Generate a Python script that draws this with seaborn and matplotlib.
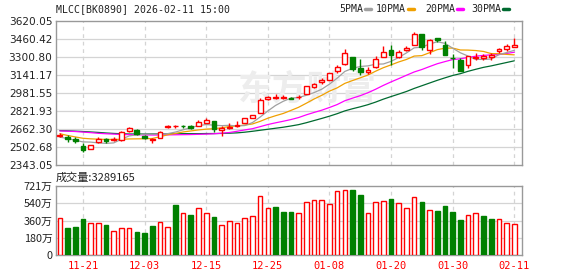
import numpy as np
import pandas as pd
import matplotlib
matplotlib.use("Agg")
import matplotlib.pyplot as plt
import seaborn as sns

# ---------------- data ----------------
title = "MLCC[BK0890] 2026-02-11 15:00"
dates = ["11-18", "11-19", "11-20", "11-21", "11-24", "11-25", "11-26", "11-27", "11-28",
         "12-01", "12-02", "12-03", "12-04", "12-05", "12-08", "12-09", "12-10", "12-11",
         "12-12", "12-15", "12-16", "12-17", "12-18", "12-19", "12-22", "12-23", "12-24",
         "12-25", "12-26", "12-29", "12-30", "12-31", "01-05", "01-06", "01-07", "01-08",
         "01-09", "01-12", "01-13", "01-14", "01-15", "01-16", "01-19", "01-20", "01-21",
         "01-22", "01-23", "01-26", "01-27", "01-28", "01-29", "01-30", "02-02", "02-03",
         "02-04", "02-05", "02-06", "02-09", "02-10", "02-11"]
date_ticks = ["11-21", "12-03", "12-15", "12-25", "01-08", "01-20", "01-30", "02-11"]

opens = [2600, 2591, 2576, 2511, 2488, 2547, 2576, 2565, 2562, 2647,
         2656, 2600, 2568, 2582, 2683, 2686, 2690, 2688, 2692, 2718,
         2730, 2650, 2668, 2689, 2718, 2763, 2801, 2925, 2940, 2938,
         2938, 2943, 2973, 3033, 3075, 3095, 3173, 3240, 3305, 3200,
         3168, 3209, 3303, 3365, 3303, 3364, 3406, 3507, 3361, 3472,
         3411, 3296, 3276, 3232, 3293, 3293, 3305, 3352, 3370, 3387]
highs = [2625, 2612, 2594, 2535, 2523, 2594, 2582, 2594, 2641, 2680,
         2659, 2606, 2582, 2641, 2700, 2700, 2702, 2694, 2741, 2760,
         2730, 2689, 2718, 2730, 2760, 2789, 2934, 2955, 2973, 2965,
         2950, 2961, 3045, 3073, 3117, 3160, 3229, 3370, 3305, 3280,
         3208, 3311, 3395, 3408, 3364, 3399, 3522, 3507, 3463, 3472,
         3440, 3329, 3293, 3308, 3334, 3323, 3334, 3381, 3416, 3469]
lows = [2590, 2550, 2541, 2458, 2486, 2541, 2541, 2556, 2556, 2638,
        2612, 2574, 2535, 2580, 2672, 2675, 2675, 2662, 2689, 2712,
        2638, 2600, 2659, 2677, 2715, 2763, 2801, 2916, 2931, 2930,
        2925, 2931, 2970, 3024, 3059, 3094, 3158, 3230, 3176, 3145,
        3147, 3206, 3299, 3229, 3290, 3352, 3406, 3364, 3323, 3434,
        3317, 3200, 3176, 3203, 3276, 3276, 3276, 3340, 3358, 3387]
closes = [2610, 2573, 2553, 2473, 2523, 2571, 2553, 2577, 2638, 2668,
          2618, 2585, 2574, 2638, 2688, 2690, 2686, 2668, 2727, 2739,
          2659, 2668, 2680, 2700, 2757, 2789, 2916, 2946, 2945, 2944,
          2928, 2949, 3040, 3065, 3095, 3156, 3208, 3339, 3196, 3172,
          3184, 3280, 3349, 3315, 3349, 3384, 3507, 3388, 3455, 3451,
          3317, 3293, 3176, 3308, 3305, 3311, 3317, 3370, 3399, 3405]
# volume in 万
volumes = [386, 285, 295, 379, 337, 337, 316, 253, 281, 281,
           243, 232, 306, 348, 295, 526, 442, 421, 491, 442,
           400, 316, 358, 337, 386, 407, 620, 491, 505, 453,
           453, 442, 554, 575, 575, 533, 669, 680, 683, 631,
           442, 554, 564, 589, 543, 491, 606, 557, 470, 463,
           515, 453, 369, 421, 439, 411, 379, 375, 337, 329]
vol_up = [1, 0, 0, 0, 1, 1, 0, 1, 1, 1,
          0, 0, 0, 1, 1, 0, 1, 0, 1, 1,
          0, 1, 1, 1, 1, 1, 1, 1, 0, 0,
          0, 1, 1, 1, 1, 1, 1, 1, 0, 0,
          1, 1, 1, 0, 1, 1, 1, 0, 1, 0,
          0, 0, 0, 1, 1, 0, 0, 1, 1, 1]

ma5 = [2590, 2578, 2562, 2548, 2546, 2539, 2535, 2539, 2572, 2601,
       2611, 2617, 2617, 2617, 2621, 2635, 2655, 2674, 2692, 2702,
       2696, 2692, 2695, 2689, 2693, 2719, 2768, 2822, 2871, 2908,
       2936, 2942, 2961, 2985, 3015, 3060, 3113, 3173, 3200, 3217,
       3222, 3237, 3239, 3262, 3297, 3337, 3382, 3388, 3416, 3436,
       3422, 3379, 3338, 3309, 3280, 3279, 3283, 3322, 3340, 3360]
ma10 = [2620, 2605, 2592, 2580, 2575, 2572, 2570, 2570, 2571, 2574,
        2575, 2576, 2578, 2594, 2611, 2623, 2636, 2645, 2654, 2661,
        2665, 2673, 2684, 2690, 2697, 2707, 2730, 2758, 2780, 2800,
        2827, 2855, 2891, 2928, 2961, 2998, 3027, 3067, 3092, 3116,
        3141, 3175, 3206, 3231, 3257, 3279, 3309, 3313, 3339, 3366,
        3379, 3380, 3363, 3362, 3358, 3350, 3331, 3330, 3324, 3320]
ma20 = [2645, 2643, 2640, 2635, 2630, 2624, 2620, 2617, 2614, 2612,
        2611, 2610, 2609, 2609, 2610, 2611, 2612, 2613, 2615, 2617,
        2620, 2625, 2631, 2642, 2654, 2665, 2683, 2702, 2717, 2731,
        2746, 2764, 2788, 2809, 2829, 2853, 2879, 2913, 2936, 2958,
        2984, 3015, 3049, 3080, 3109, 3139, 3168, 3190, 3216, 3241,
        3260, 3278, 3285, 3297, 3308, 3315, 3320, 3322, 3332, 3343]
ma30 = [2648, 2646, 2643, 2640, 2636, 2632, 2627, 2623, 2620, 2618,
        2618, 2618, 2619, 2619, 2620, 2620, 2621, 2621, 2621, 2622,
        2622, 2623, 2625, 2628, 2634, 2642, 2651, 2660, 2669, 2678,
        2689, 2701, 2718, 2737, 2756, 2776, 2798, 2823, 2842, 2859,
        2878, 2901, 2927, 2950, 2972, 2995, 3022, 3046, 3070, 3094,
        3116, 3137, 3153, 3174, 3192, 3209, 3222, 3237, 3252, 3267]

price_tick_labels = ["2343.05", "2502.68", "2662.30", "2821.93", "2981.55",
                     "3141.17", "3300.80", "3460.42", "3620.05"]
vol_ticks = [0, 180, 360, 540, 721]
vol_tick_labels = ["0", "180万", "360万", "540万", "721万"]
ma_names = ["5PMA", "10PMA", "20PMA", "30PMA"]
latest_volume = "3289165"

# ---------------- style ----------------
sns.set_style("white")
plt.rcParams["font.family"] = ["DejaVu Sans", "Noto Sans CJK SC"]
RED = "#ff0000"
GREEN = "#008000"
ma_colors = ["#a0a0a0", "#f0a000", "#ff00ff", "#006a30"]
GRID = "#d4d4d4"
SPINE = "#999999"
TXT = "#222222"
MONO = "DejaVu Sans Mono"
CJK = ["Noto Sans CJK SC", "DejaVu Sans"]

W, H = 578, 276
fig = plt.figure(figsize=(W / 100, H / 100), dpi=100)


def fx(x):
    return x / W


def fy(y):
    return 1 - y / H


ax = fig.add_axes([fx(56), fy(165), fx(522) - fx(56), fy(21) - fy(165)])
axv = fig.add_axes([fx(56), fy(255), fx(522) - fx(56), fy(186) - fy(255)])

n = len(dates)
idx = np.arange(n)
xlo, xhi = -0.5, n + 0.0
tick_pos = [dates.index(d) for d in date_ticks]

# ---- price panel ----
price_ticks = [float(t) for t in price_tick_labels]
ax.set_ylim(price_ticks[0], price_ticks[-1])
ax.set_xlim(xlo, xhi)
for t in price_ticks[1:-1]:
    ax.axhline(t, color=GRID, lw=0.9, zorder=0)
for p in tick_pos:
    ax.axvline(p, color=GRID, lw=0.9, ls=(0, (3, 3)), zorder=0)

ax.text(0.54, 0.53, "东方财富", transform=ax.transAxes, fontsize=25,
        family=CJK, color="#ededed", weight="bold", ha="center", va="center", zorder=0.5)

ma_df = pd.DataFrame({"idx": np.tile(idx, 4),
                      "value": np.concatenate([ma5, ma10, ma20, ma30]),
                      "ma": np.repeat(ma_names, n)})
sns.lineplot(data=ma_df, x="idx", y="value", hue="ma", palette=dict(zip(ma_names, ma_colors)),
             hue_order=ma_names[::-1], legend=False, lw=0.9, ax=ax, zorder=2)

o = np.array(opens, float)
c = np.array(closes, float)
hi = np.array(highs, float)
lo = np.array(lows, float)
up = c >= o
colors = np.where(up, RED, GREEN)
ax.vlines(idx, lo, hi, colors=colors, lw=1.0, zorder=3)
body_bottom = np.minimum(o, c)
body_h = np.maximum(np.abs(c - o), 1.5)
ax.bar(idx, body_h, bottom=body_bottom, width=0.62,
       color=np.where(up, "white", GREEN), edgecolor=colors, lw=1.0, zorder=4)

ax.set_yticks(price_ticks)
ax.set_yticklabels(price_tick_labels)
ax.set_xticks([])
ax.tick_params(axis="y", length=0, pad=2.5, labelsize=7.6, labelcolor=TXT)
ax.set_xlabel("")
ax.set_ylabel("")
for s in ax.spines.values():
    s.set_color(SPINE)
    s.set_linewidth(1.0)

# ---- volume panel ----
axv.set_xlim(xlo, xhi)
axv.set_ylim(0, vol_ticks[-1])
for t in vol_ticks[1:-1]:
    axv.axhline(t, color=GRID, lw=0.9, zorder=0)
for p in tick_pos:
    axv.axvline(p, color=GRID, lw=0.9, ls=(0, (3, 3)), zorder=0)
vu = np.array(vol_up, bool)
vcol = np.where(vu, RED, GREEN)
axv.bar(idx, volumes, width=0.6, color=np.where(vu, "white", GREEN),
        edgecolor=vcol, lw=1.0, zorder=3)
axv.set_yticks(vol_ticks)
axv.set_yticklabels(vol_tick_labels, family=CJK)
axv.set_xticks(tick_pos)
axv.set_xticklabels(date_ticks, family=MONO, color=RED)
axv.tick_params(axis="y", length=0, pad=2.5, labelsize=7.8, labelcolor=TXT)
axv.tick_params(axis="x", length=0, pad=4.5, labelsize=7.5)
axv.set_xlabel("")
axv.set_ylabel("")
for s in axv.spines.values():
    s.set_color(SPINE)
    s.set_linewidth(1.0)

# ---- texts ----
fig.text(fx(56), fy(9), title, family=MONO, fontsize=7.1, color=TXT, va="center", ha="left")
fig.text(fx(56), fy(178), "成交量:" + latest_volume, family=CJK, fontsize=8,
         color=TXT, va="center", ha="left")

legend_x = [339, 376, 425, 471]
for name, col, x0 in zip(ma_names, ma_colors, legend_x):
    fig.text(fx(x0), fy(9), name, family=MONO, fontsize=7.1, color=TXT, va="center", ha="left")
fig.canvas.draw()
rend = fig.canvas.get_renderer()
for t in fig.texts[2:]:
    bb = t.get_window_extent(rend)
    col = ma_colors[ma_names.index(t.get_text())]
    x1 = bb.x1 + 2
    fig.add_artist(plt.Line2D([x1 / W, (x1 + 6) / W], [fy(9), fy(9)],
                              color=col, lw=2.5, transform=fig.transFigure))

fig.savefig("out.png", dpi=100, facecolor="white")
